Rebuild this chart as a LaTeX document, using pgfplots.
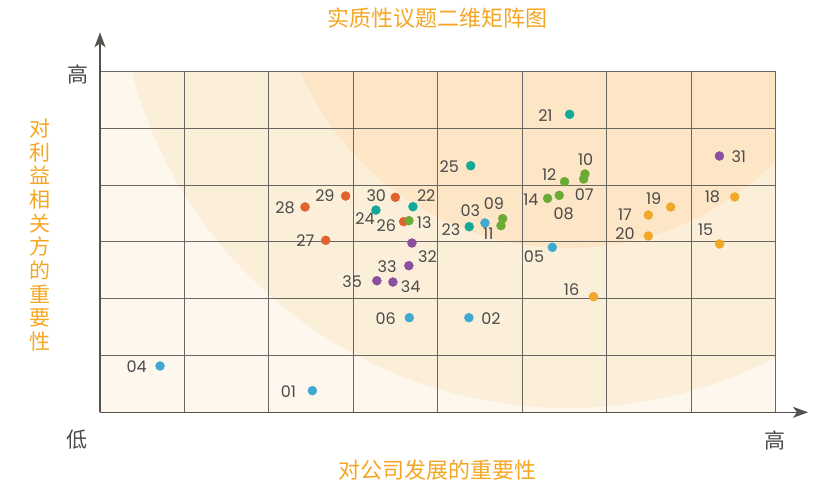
\documentclass[border=0pt]{standalone}
\usepackage{fontspec}
\usepackage{pgfplots}
\usepackage{pgfplotstable}
\pgfplotsset{compat=1.18}
\usetikzlibrary{arrows.meta}
\newfontfamily\cjk{Noto Sans CJK SC}
\newfontfamily\labfont{Poppins}
\definecolor{cblue}{HTML}{3FA9D0}
\definecolor{cteal}{HTML}{12A89A}
\definecolor{cgreen}{HTML}{6BAA34}
\definecolor{cred}{HTML}{E2622E}
\definecolor{corange}{HTML}{F0A82A}
\definecolor{cpurple}{HTML}{8B4F9F}
\definecolor{ctitle}{HTML}{F5A623}
\definecolor{bgA}{HTML}{FEF7EE}
\definecolor{bgB}{HTML}{FCEFDA}
\definecolor{bgC}{HTML}{FDE6C5}
\definecolor{gridc}{HTML}{6A6662}
\definecolor{labc}{HTML}{4A4A4A}

\pgfplotstableread{
x y lab dx dy
2.515 0.381 01 -24 -0.6
4.369 1.667 02 22 -0.6
4.559 3.335 03 -14.7 12.3
0.711 0.816 04 -23.3 -0.7
5.357 2.906 05 -18.3 -9
3.663 1.667 06 -23.6 -0.6
}\tblue
\pgfplotstableread{
x y lab dx dy
5.562 5.249 21 -24.2 -1.4
3.706 3.622 22 13.3 11.4
4.373 3.270 23 -18.3 -3.3
3.268 3.563 24 -11 -9
4.390 4.344 25 -21.4 -1
}\tteal
\pgfplotstableread{
x y lab dx dy
5.728 4.110 07 0.6 -16
5.439 3.822 08 4.4 -18
4.769 3.411 09 -8.7 14.7
5.744 4.198 10 0.7 14.7
4.749 3.288 11 -12.7 -7.6
5.502 4.062 12 -15.4 6.7
3.659 3.376 13 15.3 -1.6
5.301 3.769 14 -16.7 -1.7
}\tgreen
\pgfplotstableread{
x y lab dx dy
3.596 3.358 26 -17.4 -4
2.673 3.030 27 -20.4 0
2.428 3.617 28 -20 -1
2.909 3.810 29 -20.7 0
3.497 3.787 30 -19 2
}\tred
\pgfplotstableread{
x y lab dx dy
7.338 2.965 15 -14 14
5.846 2.037 16 -22 6.7
6.494 3.475 17 -23.3 0
7.517 3.793 18 -22.3 0
6.758 3.616 19 -17 8.3
6.494 3.106 20 -23.3 2.7
}\torange
\pgfplotstableread{
x y lab dx dy
7.336 4.515 31 19.4 -0.7
3.694 2.982 32 15.6 -13.7
3.658 2.583 33 -21.7 -1
3.469 2.295 34 17.7 -4.3
3.279 2.318 35 -24.7 -1
}\tpurple

\pgfplotsset{
  pts/.style={only marks, mark=*, mark size=4.5pt, color=#1,
    mark options={draw=none, fill=#1},
    nodes near coords, point meta=explicit symbolic,
    visualization depends on={\thisrow{dx}\as\dx},
    visualization depends on={\thisrow{dy}\as\dy},
    every node near coord/.append style={anchor=center, inner sep=0pt,
      xshift=\dx*1pt, yshift=\dy*1pt, text=labc,
      font=\labfont\fontsize{16}{18}\selectfont}}
}

\begin{document}
\begin{tikzpicture}
\begin{scope}
\clip (0,0) rectangle (675.5pt,340.6pt);
\fill[bgA] (0,0) rectangle (675.5pt,340.6pt);
\fill[bgB] (468pt,455.3pt) circle[radius=451pt];
\fill[bgC] (468pt,455.3pt) circle[radius=291pt];
\end{scope}
\begin{axis}[at={(0,0)}, anchor=south west, scale only axis,
  width=675.5pt, height=340.6pt,
  xmin=0, xmax=8, ymin=0, ymax=6,
  xtick={0,...,8}, ytick={0,...,6},
  xticklabels={}, yticklabels={},
  major tick length=0pt,
  grid=major, grid style={draw=gridc, line width=1pt},
  axis line style={draw=gridc, line width=1pt},
  clip=false]
\addplot[pts=cblue] table[meta=lab] {\tblue};
\addplot[pts=cteal] table[meta=lab] {\tteal};
\addplot[pts=cred] table[meta=lab] {\tred};
\addplot[pts=cgreen] table[meta=lab] {\tgreen};
\addplot[pts=corange] table[meta=lab] {\torange};
\addplot[pts=cpurple] table[meta=lab] {\tpurple};
\end{axis}
\draw[gridc!80!black, line width=1.3pt, -{Stealth[length=15pt, width=11pt, inset=4pt]}] (0,0) -- (0,380pt);
\draw[gridc!80!black, line width=1.3pt, -{Stealth[length=15pt, width=11pt, inset=4pt]}] (0,0) -- (708pt,0);
\node[text=ctitle, font=\cjk\fontsize{22}{24}\selectfont] at (337pt,394.3pt) {实质性议题二维矩阵图};
\node[text=ctitle, font=\cjk\fontsize{22}{24}\selectfont] at (337pt,-57.7pt) {对公司发展的重要性};
\node[text=ctitle, font=\cjk\fontsize{21}{23.7}\selectfont, align=center] at (-60pt,177.3pt) {对\\利\\益\\相\\关\\方\\的\\重\\要\\性};
\node[text=labc, font=\cjk\fontsize{21}{24}\selectfont] at (-22pt,338pt) {高};
\node[text=labc, font=\cjk\fontsize{21}{24}\selectfont] at (-23pt,-27.7pt) {低};
\node[text=labc, font=\cjk\fontsize{21}{24}\selectfont] at (675pt,-27.7pt) {高};
\pgfresetboundingbox
\path[use as bounding box] (-100pt,-76.7pt) rectangle (727pt,412.3pt);
\end{tikzpicture}
\end{document}
